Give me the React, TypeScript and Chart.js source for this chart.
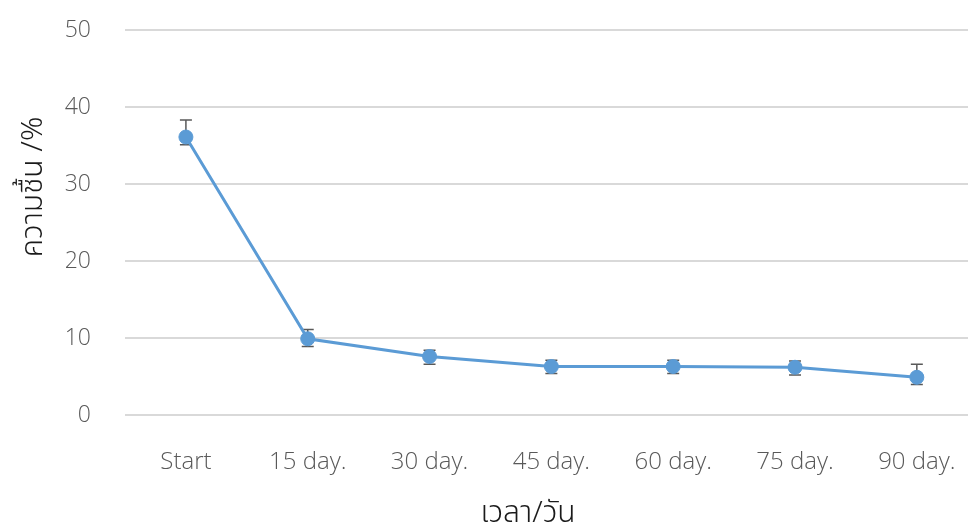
import React, { useEffect, useRef } from "react";
import { Chart, registerables } from "chart.js";

Chart.register(...registerables);

const categories = ["Start", "15 day.", "30 day.", "45 day.", "60 day.", "75 day.", "90 day."];
const moisture = [36.1, 9.9, 7.6, 6.3, 6.3, 6.2, 4.9];
const errPlus = [2.2, 1.2, 0.8, 0.8, 0.8, 0.8, 1.7];
const errMinus = [1.0, 1.0, 1.0, 0.9, 0.9, 1.0, 0.95];
const yTicks = [0, 10, 20, 30, 40, 50];
const xTitle = "เวลา/วัน";
const yTitle = "ความชื้น /%";

const thaiFont = "300 30px 'Noto Sans Thai', 'Noto Sans', sans-serif";

const errorBarPlugin = {
  id: "errorBars",
  beforeDatasetsDraw(chart: any) {
    const { ctx, scales } = chart;
    const xs = scales.x;
    const ys = scales.y;
    ctx.save();
    ctx.strokeStyle = "#595959";
    ctx.lineWidth = 1.5;
    moisture.forEach((v, i) => {
      const x = xs.getPixelForValue(i);
      const yTop = ys.getPixelForValue(v + errPlus[i]);
      const yBot = ys.getPixelForValue(v - errMinus[i]);
      const cap = 6;
      ctx.beginPath();
      ctx.moveTo(x, yTop);
      ctx.lineTo(x, yBot);
      ctx.moveTo(x - cap, yTop);
      ctx.lineTo(x + cap, yTop);
      ctx.moveTo(x - cap, yBot);
      ctx.lineTo(x + cap, yBot);
      ctx.stroke();
    });
    ctx.restore();
  },
};

const titlesPlugin = {
  id: "axisTitles",
  afterDraw(chart: any) {
    const { ctx } = chart;
    ctx.save();
    ctx.fillStyle = "#1a1a1a";
    ctx.font = thaiFont;
    ctx.textAlign = "center";
    ctx.textBaseline = "middle";
    ctx.fillText(xTitle, 528, 516);
    ctx.translate(36, 187);
    ctx.rotate(-Math.PI / 2);
    ctx.fillText(yTitle, 0, 0);
    ctx.restore();
  },
};

export default function App() {
  const ref = useRef<HTMLCanvasElement | null>(null);
  useEffect(() => {
    if (!ref.current) return;
    const chart = new Chart(ref.current, {
      type: "line",
      data: {
        datasets: [
          {
            data: moisture.map((v, i) => ({ x: i, y: v })),
            borderColor: "#5B9BD5",
            backgroundColor: "#5B9BD5",
            borderWidth: 3,
            pointRadius: 7,
            pointBorderWidth: 1,
            pointBorderColor: "#5B9BD5",
            pointBackgroundColor: "#5B9BD5",
            tension: 0,
          },
        ],
      },
      options: {
        animation: false,
        responsive: true,
        maintainAspectRatio: false,
        layout: { autoPadding: false, padding: { top: 30, right: 0, bottom: 0, left: 0 } },
        plugins: { legend: { display: false }, tooltip: { enabled: false } },
        scales: {
          x: {
            type: "linear",
            bounds: "data",
            min: -0.5,
            max: 6.42,
            afterBuildTicks: (s: any) => {
              s.ticks = categories.map((_, i) => ({ value: i }));
            },
            afterFit: (s: any) => {
              s.height = 110;
              s.paddingLeft = 0;
              s.paddingRight = 0;
            },
            grid: { display: false, drawTicks: false },
            border: { display: false },
            ticks: {
              padding: 33,
              color: "#595959",
              font: { family: "'Open Sans', 'Noto Sans', sans-serif", size: 24, weight: "300" },
              callback: (v: any) => categories[v] ?? "",
              maxRotation: 0,
              autoSkip: false,
            },
          },
          y: {
            min: 0,
            max: 50,
            afterBuildTicks: (s: any) => {
              s.ticks = yTicks.map((v) => ({ value: v }));
            },
            afterFit: (s: any) => {
              s.width = 125;
              s.paddingTop = 0;
              s.paddingBottom = 0;
            },
            grid: { color: "#d9d9d9", lineWidth: 2, drawTicks: false },
            border: { display: false },
            ticks: {
              padding: 34,
              color: "#595959",
              font: { family: "'Open Sans', 'Noto Sans', sans-serif", size: 23, weight: "300" },
            },
          },
        },
      },
      plugins: [errorBarPlugin, titlesPlugin],
    });
    return () => chart.destroy();
  }, []);
  return (
    <div style={{ position: "fixed", left: 0, top: 0, width: 968, height: 525, background: "#fff" }}>
      <canvas ref={ref} />
    </div>
  );
}
